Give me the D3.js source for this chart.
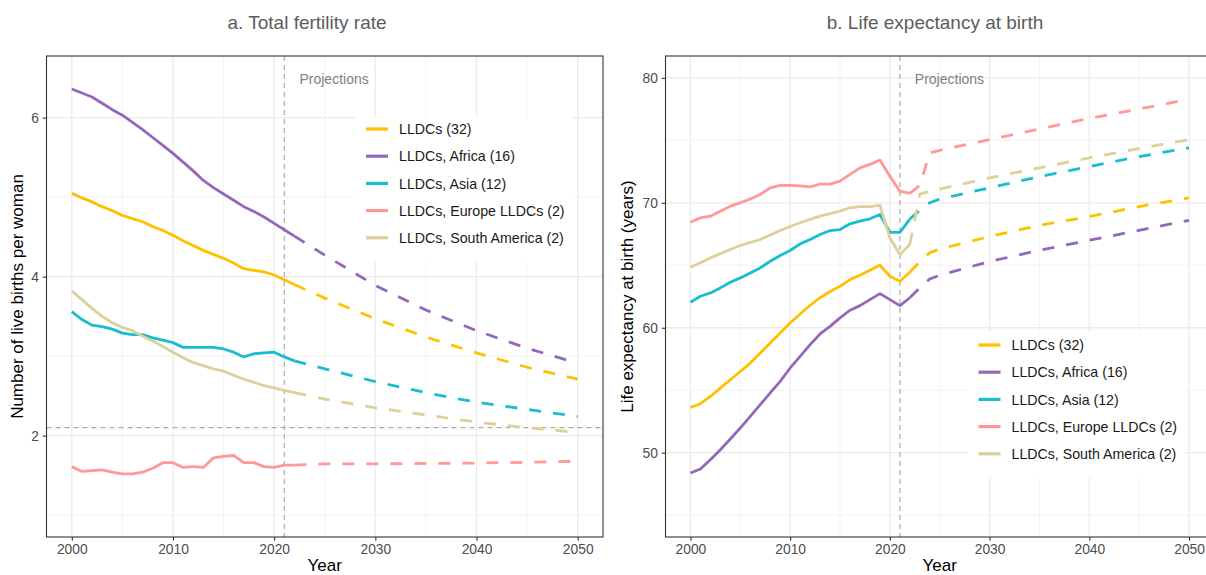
<!DOCTYPE html>
<html>
<head>
<meta charset="utf-8">
<script src="https://cdn.jsdelivr.net/npm/d3@7"></script>
<style>
body { margin: 0; background: #fff; }
svg { display: block; font-family: "Liberation Sans", Arial, Helvetica, sans-serif; }
</style>
</head>
<body>
<svg id="chart" width="1206" height="575"></svg>
<script>
/*global d3*/

// series, in legend / drawing order
var seriesNames = ["LLDCs (32)", "LLDCs, Africa (16)", "LLDCs, Asia (12)",
    "LLDCs, Europe LLDCs (2)", "LLDCs, South America (2)"];
var seriesColors = ["#FFC000", "#9467BD", "#17BECF", "#FF9896", "#DDD09A"];

var histYears = [2000, 2001, 2002, 2003, 2004, 2005, 2006, 2007, 2008, 2009, 2010,
    2011, 2012, 2013, 2014, 2015, 2016, 2017, 2018, 2019, 2020, 2021, 2022];
var projYearsTfr = [2022, 2025, 2030, 2035, 2040, 2045, 2050];
var projYearsLe = [2022, 2023, 2024, 2025, 2030, 2035, 2040, 2045, 2050];

var xTicks = [2000, 2010, 2020, 2030, 2040, 2050];
var tfrTicks = [2, 4, 6];
var leTicks = [50, 60, 70, 80];

// a. total fertility rate, estimates 2000-2022
var tfrHistAll = [5.05, 4.99, 4.94, 4.88, 4.83, 4.77, 4.73, 4.69, 4.63, 4.58, 4.52,
    4.45, 4.39, 4.33, 4.28, 4.23, 4.17, 4.10, 4.08, 4.06, 4.02, 3.96, 3.90];
var tfrHistAfrica = [6.36, 6.31, 6.26, 6.18, 6.10, 6.03, 5.94, 5.85, 5.75, 5.65, 5.55,
    5.44, 5.33, 5.21, 5.12, 5.04, 4.96, 4.88, 4.82, 4.75, 4.67, 4.59, 4.51];
var tfrHistAsia = [3.56, 3.46, 3.39, 3.37, 3.34, 3.29, 3.27, 3.27, 3.23, 3.20, 3.17,
    3.11, 3.11, 3.11, 3.11, 3.09, 3.05, 2.99, 3.03, 3.04, 3.05, 2.99, 2.94];
var tfrHistEurope = [1.61, 1.55, 1.56, 1.57, 1.54, 1.52, 1.52, 1.54, 1.59, 1.66, 1.66,
    1.60, 1.61, 1.60, 1.72, 1.74, 1.75, 1.66, 1.66, 1.61, 1.60, 1.63, 1.63];
var tfrHistSouthAm = [3.82, 3.71, 3.60, 3.50, 3.42, 3.36, 3.32, 3.25, 3.19, 3.12, 3.05,
    2.98, 2.92, 2.88, 2.84, 2.81, 2.76, 2.71, 2.67, 2.63, 2.60, 2.57, 2.54];

// a. projections
var tfrProjAll = [3.90, 3.73, 3.47, 3.24, 3.04, 2.86, 2.71];
var tfrProjAfrica = [4.51, 4.27, 3.89, 3.58, 3.32, 3.10, 2.91];
var tfrProjAsia = [2.94, 2.84, 2.68, 2.54, 2.42, 2.33, 2.24];
var tfrProjEurope = [1.63, 1.645, 1.645, 1.65, 1.655, 1.665, 1.68];
var tfrProjSouthAm = [2.54, 2.46, 2.35, 2.26, 2.17, 2.10, 2.04];

// b. life expectancy at birth, estimates 2000-2022
var leHistAll = [53.62, 53.92, 54.50, 55.17, 55.84, 56.50, 57.17, 57.97, 58.78, 59.58, 60.38,
    61.10, 61.80, 62.40, 62.90, 63.32, 63.85, 64.20, 64.60, 65.00, 64.12, 63.72, 64.44];
var leHistAfrica = [48.37, 48.69, 49.43, 50.23, 51.09, 51.97, 52.90, 53.84, 54.78, 55.71, 56.78,
    57.71, 58.65, 59.50, 60.11, 60.79, 61.40, 61.77, 62.25, 62.73, 62.25, 61.77, 62.40];
var leHistAsia = [62.04, 62.52, 62.79, 63.19, 63.64, 63.99, 64.39, 64.79, 65.32, 65.78, 66.18,
    66.71, 67.06, 67.46, 67.78, 67.86, 68.32, 68.53, 68.72, 69.06, 67.64, 67.64, 68.70];
var leHistEurope = [68.45, 68.80, 68.93, 69.33, 69.73, 70.00, 70.30, 70.67, 71.20, 71.39, 71.39,
    71.36, 71.28, 71.50, 71.50, 71.73, 72.27, 72.80, 73.07, 73.42, 72.13, 70.93, 70.75];
var leHistSouthAm = [64.84, 65.20, 65.59, 65.93, 66.26, 66.58, 66.82, 67.06, 67.42, 67.78, 68.10,
    68.40, 68.67, 68.93, 69.13, 69.33, 69.60, 69.70, 69.70, 69.80, 67.20, 65.86, 66.66];

// b. projections
var leProjAll = [64.44, 65.30, 66.00, 66.30, 67.30, 68.20, 68.90, 69.70, 70.40];
var leProjAfrica = [62.40, 63.20, 63.90, 64.20, 65.30, 66.20, 67.00, 67.80, 68.60];
var leProjAsia = [68.70, 69.40, 70.00, 70.30, 71.20, 72.10, 72.90, 73.70, 74.40];
var leProjEurope = [70.75, 71.40, 74.00, 74.20, 75.05, 75.90, 76.75, 77.50, 78.30];
var leProjSouthAm = [66.66, 70.70, 70.90, 71.10, 72.00, 72.80, 73.60, 74.35, 75.05];

var svg = d3.select("#chart");

/** zip years and values into points */
function pts(years, vals) {
    return years.map(function (yr, i) { return {year: yr, value: vals[i]}; });
}

/**
 * Draw one facet
 * @param cfg - panel settings
 */
function drawPanel(cfg) {
    var top = 56, bottom = 537;

    var x = d3.scaleLinear().domain([1997.5, 2052.5]).range([cfg.left, cfg.right]),
        y = d3.scaleLinear().domain(cfg.yDomain).range([bottom, top]);

    var g = svg.append("g");

    /** grid, minor first **/
    var grid = g.append("g");
    [2005, 2015, 2025, 2035, 2045].forEach(function (v) {
        grid.append("line").attr("x1", x(v)).attr("x2", x(v)).attr("y1", top).attr("y2", bottom)
            .attr("stroke", "#f0f0f0").attr("stroke-width", 0.8);
    });
    cfg.yMinor.forEach(function (v) {
        grid.append("line").attr("x1", cfg.left).attr("x2", cfg.right).attr("y1", y(v)).attr("y2", y(v))
            .attr("stroke", "#f0f0f0").attr("stroke-width", 0.8);
    });
    xTicks.forEach(function (v) {
        grid.append("line").attr("x1", x(v)).attr("x2", x(v)).attr("y1", top).attr("y2", bottom)
            .attr("stroke", "#ebebeb").attr("stroke-width", 1.3);
    });
    cfg.yTicks.forEach(function (v) {
        grid.append("line").attr("x1", cfg.left).attr("x2", cfg.right).attr("y1", y(v)).attr("y2", y(v))
            .attr("stroke", "#ebebeb").attr("stroke-width", 1.3);
    });

    /** reference lines **/
    g.append("line")
        .attr("x1", x(2021)).attr("x2", x(2021)).attr("y1", top).attr("y2", bottom)
        .attr("stroke", "#ababab").attr("stroke-width", 1.2).attr("stroke-dasharray", "5,4");
    if (cfg.hline !== null) {
        g.append("line")
            .attr("x1", cfg.left).attr("x2", cfg.right).attr("y1", y(cfg.hline)).attr("y2", y(cfg.hline))
            .attr("stroke", "#ababab").attr("stroke-width", 1.2).attr("stroke-dasharray", "5,4");
    }

    g.append("text")
        .attr("x", x(2022.5)).attr("y", 83.5)
        .attr("font-size", "14px").attr("fill", "#808080")
        .text("Projections");

    var line = d3.line()
        .x(function (d) { return x(d.year); })
        .y(function (d) { return y(d.value); });

    /** series, solid estimates then dashed projections **/
    cfg.hist.forEach(function (vals, i) {
        g.append("path")
            .datum(pts(histYears, vals))
            .attr("d", line)
            .attr("fill", "none")
            .attr("stroke", seriesColors[i])
            .attr("stroke-width", 2.8)
            .attr("stroke-linejoin", "round");
        g.append("path")
            .datum(pts(cfg.projYears, cfg.proj[i]))
            .attr("d", line)
            .attr("fill", "none")
            .attr("stroke", seriesColors[i])
            .attr("stroke-width", 2.8)
            .attr("stroke-dasharray", "12,12");
    });

    /** panel border **/
    g.append("rect")
        .attr("x", cfg.left).attr("y", top)
        .attr("width", cfg.right - cfg.left).attr("height", bottom - top)
        .attr("fill", "none").attr("stroke", "#333").attr("stroke-width", 1.1);

    /** axes **/
    var xAxis = g.append("g")
        .attr("transform", "translate(0," + bottom + ")")
        .call(d3.axisBottom(x).tickValues(xTicks).tickFormat(d3.format("d")).tickSize(3.7).tickPadding(4));
    var yAxis = g.append("g")
        .attr("transform", "translate(" + cfg.left + ",0)")
        .call(d3.axisLeft(y).tickValues(cfg.yTicks).tickFormat(d3.format("d")).tickSize(3.7).tickPadding(4));

    [xAxis, yAxis].forEach(function (a) {
        a.select(".domain").remove();
        a.selectAll(".tick line").attr("stroke", "#333").attr("stroke-width", 1.1);
        a.selectAll(".tick text")
            .attr("fill", "#4d4d4d")
            .attr("font-size", "13.8px")
            .attr("font-family", "Liberation Sans, Arial, sans-serif");
    });

    /** titles **/
    g.append("text")
        .attr("x", cfg.titleX).attr("y", 28.5)
        .attr("text-anchor", "middle")
        .attr("font-size", "19px").attr("fill", "#5c5c5c")
        .text(cfg.title);

    g.append("text")
        .attr("x", (cfg.left + cfg.right) / 2).attr("y", 571)
        .attr("text-anchor", "middle")
        .attr("font-size", "17px").attr("fill", "#000")
        .text("Year");

    g.append("text")
        .attr("transform", "translate(" + cfg.yTitleX + "," + ((top + bottom) / 2) + ") rotate(-90)")
        .attr("text-anchor", "middle")
        .attr("font-size", "17px").attr("fill", "#000")
        .text(cfg.yTitle);

    /** legend **/
    var lg = g.append("g").attr("transform", "translate(" + cfg.legend[0] + "," + cfg.legend[1] + ")");
    lg.append("rect")
        .attr("width", 218).attr("height", 145)
        .attr("fill", "#fff");
    seriesNames.forEach(function (name, i) {
        var ry = 12.5 + i * 27.2;
        lg.append("line")
            .attr("x1", 11).attr("x2", 33).attr("y1", ry).attr("y2", ry)
            .attr("stroke", seriesColors[i]).attr("stroke-width", 3.2);
        lg.append("text")
            .attr("x", 44).attr("y", ry)
            .attr("dy", "0.36em")
            .attr("font-size", "14.2px").attr("fill", "#1a1a1a")
            .text(name);
    });
}

drawPanel({
    left: 46.5, right: 603,
    yDomain: [0.725, 6.775],
    yTicks: tfrTicks, yMinor: [1, 3, 5],
    hline: 2.1,
    hist: [tfrHistAll, tfrHistAfrica, tfrHistAsia, tfrHistEurope, tfrHistSouthAm],
    proj: [tfrProjAll, tfrProjAfrica, tfrProjAsia, tfrProjEurope, tfrProjSouthAm],
    projYears: projYearsTfr,
    title: "a. Total fertility rate", titleX: 307,
    yTitle: "Number of live births per woman", yTitleX: 22.5,
    legend: [355, 116.5]
});

drawPanel({
    left: 665.5, right: 1214,
    yDomain: [43.25, 81.75],
    yTicks: leTicks, yMinor: [45, 55, 65, 75],
    hline: null,
    hist: [leHistAll, leHistAfrica, leHistAsia, leHistEurope, leHistSouthAm],
    proj: [leProjAll, leProjAfrica, leProjAsia, leProjEurope, leProjSouthAm],
    projYears: projYearsLe,
    title: "b. Life expectancy at birth", titleX: 935,
    yTitle: "Life expectancy at birth (years)", yTitleX: 633,
    legend: [967.5, 332.5]
});
</script>
</body>
</html>
